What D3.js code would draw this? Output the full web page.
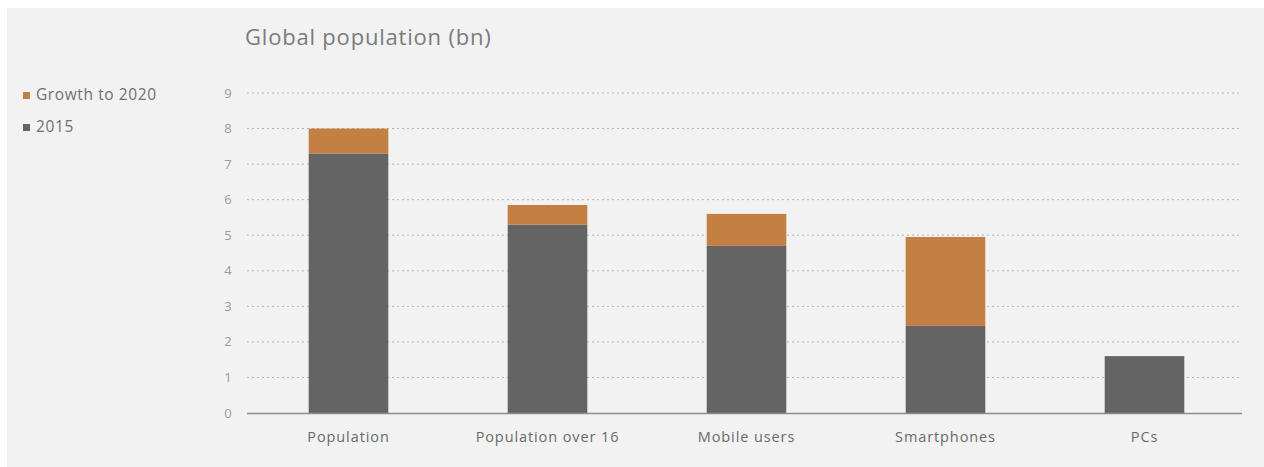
<!DOCTYPE html>
<html>
<head>
<meta charset="utf-8">
<script src="https://cdn.jsdelivr.net/npm/d3@7"></script>
<style>
    body { margin: 0; background: #ffffff; }
    svg { display: block; font-family: 'Open Sans', sans-serif; }
</style>
</head>
<body>
<div id="chart"></div>
<script>
// chart values
const categories = ['Population', 'Population over 16', 'Mobile users', 'Smartphones', 'PCs'];
const base2015 = [7.3, 5.3, 4.7, 2.45, 1.6];
const growth2020 = [0.7, 0.55, 0.9, 2.5, 0];
const yTicks = [0, 1, 2, 3, 4, 5, 6, 7, 8, 9];
const seriesNames = ['Growth to 2020', '2015'];

const width = 1264;
const height = 467;
const margin = { top: 93, right: 22, bottom: 54, left: 247 };
const colors = { base: '#646464', growth: '#c47f43' };

const svg = d3.select('#chart')
    .append('svg')
        .attr('width', width)
        .attr('height', height);

// panel background
svg.append('rect')
    .attr('x', 7)
    .attr('y', 8)
    .attr('width', width - 7)
    .attr('height', height - 8)
    .attr('fill', '#f2f2f2');

const x = d3.scaleBand()
    .domain(categories)
    .range([249, 1244])
    .paddingInner(0.6)
    .paddingOuter(0.3);

const y = d3.scaleLinear()
    .domain([0, 9])
    .range([413, margin.top]);

// dotted gridlines
svg.append('g')
    .selectAll('line')
    .data(yTicks.filter(d => d > 0))
    .join('line')
        .attr('x1', margin.left)
        .attr('x2', 1241)
        .attr('y1', d => y(d))
        .attr('y2', d => y(d))
        .attr('stroke', '#b5b5b5')
        .attr('stroke-width', 1)
        .attr('stroke-dasharray', '2,3');

// y tick labels
svg.append('g')
    .selectAll('text')
    .data(yTicks)
    .join('text')
        .attr('x', 228)
        .attr('y', d => y(d))
        .attr('dy', '0.35em')
        .attr('text-anchor', 'middle')
        .attr('font-size', 13)
        .attr('fill', '#9a9a9a')
        .text(d => d);

const data = categories.map((c, i) => ({ cat: c, base: base2015[i], growth: growth2020[i] }));

// 2015 bars
svg.append('g')
    .selectAll('rect')
    .data(data)
    .join('rect')
        .attr('x', d => x(d.cat))
        .attr('width', x.bandwidth())
        .attr('y', d => y(d.base))
        .attr('height', d => y(0) - y(d.base))
        .attr('fill', colors.base);

// growth bars stacked on top
svg.append('g')
    .selectAll('rect')
    .data(data.filter(d => d.growth > 0))
    .join('rect')
        .attr('x', d => x(d.cat))
        .attr('width', x.bandwidth())
        .attr('y', d => y(d.base + d.growth))
        .attr('height', d => y(d.base) - y(d.base + d.growth))
        .attr('fill', colors.growth);

// baseline
svg.append('line')
    .attr('x1', margin.left)
    .attr('x2', 1242)
    .attr('y1', y(0) + 0.5)
    .attr('y2', y(0) + 0.5)
    .attr('stroke', '#8c8c8c')
    .attr('stroke-width', 1.5);

// x labels
svg.append('g')
    .selectAll('text')
    .data(categories)
    .join('text')
        .attr('x', d => x(d) + x.bandwidth() / 2)
        .attr('y', 442)
        .attr('text-anchor', 'middle')
        .attr('font-size', 14.5)
        .attr('letter-spacing', 0.9)
        .attr('fill', '#6a6a6a')
        .text(d => d);

// title
svg.append('text')
    .attr('x', 245)
    .attr('y', 45)
    .attr('font-size', 22)
    .attr('letter-spacing', 0.8)
    .attr('fill', '#7b7b7b')
    .text('Global population (bn)');

// legend
const legend = svg.append('g')
    .selectAll('g')
    .data(seriesNames)
    .join('g')
        .attr('transform', (d, i) => `translate(23, ${95 + i * 32})`);

legend.append('rect')
    .attr('x', 0)
    .attr('y', -3)
    .attr('width', 7)
    .attr('height', 7)
    .attr('fill', (d, i) => i === 0 ? colors.growth : colors.base);

legend.append('text')
    .attr('x', 13)
    .attr('y', 0)
    .attr('dy', '0.35em')
    .attr('font-size', 15.5)
    .attr('letter-spacing', 0.6)
    .attr('fill', '#707070')
    .text(d => d);
</script>
</body>
</html>
